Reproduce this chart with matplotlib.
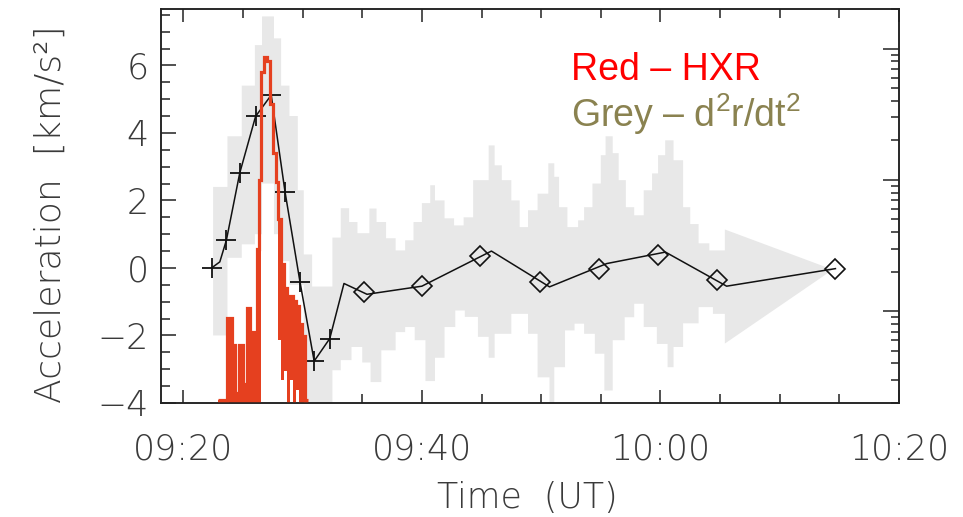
import numpy as np
import matplotlib
matplotlib.use("Agg")
from matplotlib import pyplot as plt
from matplotlib.ticker import MultipleLocator, LogLocator, NullFormatter, FuncFormatter

# times are minutes after 09:20 UT, acceleration in km/s^2

# d2r/dt2 points (plus symbols)
plus_t = [2.37, 3.61, 4.73, 6.06, 7.37, 8.53, 9.78, 10.97, 12.28]
plus_acc = [0.0, 0.82, 2.81, 4.49, 5.12, 2.25, -0.41, -2.76, -2.09]

# later points (diamonds)
diam_t = [15.14, 20.0, 24.9, 29.87, 34.87, 39.8, 44.72, 54.67]
diam_acc = [-0.71, -0.52, 0.36, -0.42, -0.02, 0.38, -0.37, -0.02]

# connecting black line
line_t = [2.37, 3.06, 3.61, 4.73, 6.06, 7.37, 8.53, 9.78, 10.97, 12.28,
          13.47, 15.4, 20.0, 25.83, 30.7, 35.5, 40.42, 45.55, 54.67]
line_acc = [0.0, 0.18, 0.82, 2.81, 4.49, 5.12, 2.25, -0.41, -2.76, -2.09,
            -0.46, -0.78, -0.54, 0.5, -0.56, 0.13, 0.47, -0.54, -0.02]

# grey error band, upper envelope (step edges + values)
hi_edges = [2.5, 3.7, 4.9, 6.0, 6.6, 7.6, 8.2, 8.9, 9.6, 10.1, 10.8, 12.5, 13.2, 13.9,
            14.6, 15.6, 16.2, 17.0, 17.8, 18.6, 19.3, 20.0, 20.7, 21.1, 21.9, 22.7, 23.5,
            24.3, 25.6, 26.1, 26.7, 27.5, 28.2, 28.9, 29.7, 30.6, 31.1, 31.5, 32.2, 33.1,
            33.6, 34.3, 35.0, 35.4, 36.0, 36.5, 37.1, 37.8, 38.6, 39.3, 39.8, 40.4, 41.1,
            41.9, 42.5, 43.2, 44.1, 45.4]
hi_vals = [2.4, 3.9, 5.4, 6.6, 7.45, 6.8, 5.4, 4.5, 2.3, 0.4, -0.55, 0.9, 1.77, 1.36,
           1.03, 1.76, 1.36, 0.88, 0.52, 0.82, 1.36, 1.92, 2.45, 2.0, 1.47, 1.26, 1.5,
           2.6, 3.63, 3.04, 2.6, 2.0, 1.21, 1.71, 2.2, 3.1, 2.7, 1.8, 1.21, 1.41,
           1.8, 2.5, 3.34, 3.9, 3.4, 2.6, 1.8, 1.56, 2.3, 2.8, 3.34, 3.78, 3.19,
           1.8, 1.3, 0.73, 0.52]

# grey error band, lower envelope
lo_edges = [2.5, 3.7, 4.9, 6.0, 6.6, 7.6, 8.2, 8.9, 10.1, 12.5, 13.2, 14.1, 15.0, 15.7,
            16.6, 17.8, 18.6, 19.4, 20.3, 21.1, 21.9, 22.8, 23.6, 24.7, 25.6, 26.1, 27.5,
            28.9, 29.7, 30.7, 31.1, 32.0, 32.8, 33.6, 34.5, 35.3, 36.0, 37.0, 37.8, 38.6,
            39.7, 40.6, 41.1, 41.9, 43.2, 44.4, 45.4]
lo_vals = [-2.0, 0.3, 0.7, 1.0, 2.5, 1.0, 0.2, -0.5, -4.2, -3.03, -2.73, -2.34, -2.8,
           -3.38, -2.44, -1.9, -1.75, -2.14, -3.35, -2.66, -1.75, -1.26, -1.45, -2.04,
           -2.66, -1.95, -1.36, -1.95, -3.24, -4.2, -2.94, -1.85, -1.65, -1.95, -2.54,
           -3.63, -2.14, -1.46, -1.06, -1.75, -2.25, -2.94, -2.34, -1.64, -1.16, -1.36]

# last interval of the band narrows linearly
taper_t = [45.4, 54.45]
taper_hi = [1.14, -0.05]
taper_lo = [-2.24, -0.05]

# HXR count rate (arbitrary units, log scale), per time bin max/min
red_edges = [2.89, 3.64, 4.06, 4.31, 4.64, 4.98, 5.31, 5.56, 5.81, 6.14, 6.31, 6.48, 6.73,
             6.98, 7.23, 7.48, 7.73, 7.98, 8.23, 8.48, 8.73, 8.98, 9.23, 9.48, 9.73, 9.98,
             10.23, 10.48]
red_hi = [21, 88, 55, 24, 55, 28, 105, 45, 70, 300, 1000, 6600, 8600, 8000, 3800, 1600,
          960, 500, 230, 150, 105, 130, 120, 110, 80, 65, 21]
red_lo = [20, 20, 20, 20, 20, 20, 20, 20, 20, 20, 20, 6600, 8600, 8000, 3800, 1600,
          960, 60, 30, 35, 20, 30, 20, 25, 20, 20, 20]


def stairs_xy(edges, vals):
    x = np.repeat(np.asarray(edges, float), 2)[1:-1]
    y = np.repeat(np.asarray(vals, float), 2)
    return x, y


def hhmm(m, pos):
    tot = 9 * 60 + 20 + int(round(m))
    return "%02d:%02d" % (tot // 60, tot % 60)


txt_col = "#3a3a3a"
axis_col = "#222222"
red = "#e5401f"

plt.rcParams["font.family"] = ["DejaVu Sans"]
plt.rcParams["mathtext.fontset"] = "custom"
plt.rcParams["mathtext.rm"] = "Liberation Sans"

fig = plt.figure(figsize=(9.63, 5.17), dpi=100)
ax = fig.add_axes([161 / 963, 1 - 403 / 517, 738 / 963, 394 / 517])

# grey band
ux, uy = stairs_xy(hi_edges, hi_vals)
lx, ly = stairs_xy(lo_edges, lo_vals)
px = np.concatenate([ux, taper_t, taper_t[::-1], lx[::-1]])
py = np.concatenate([uy, taper_hi, taper_lo[::-1], ly[::-1]])
ax.fill(px, py, color="#e8e8e8", lw=0, zorder=1)

# black curve
ax.plot(line_t, line_acc, color="#111111", lw=1.1, zorder=3)
ax.plot(plus_t, plus_acc, "+", ms=14, mew=1.3, color="#111111", zorder=4)
ax.plot(diam_t, diam_acc, "D", ms=10, mfc="none", mec="#111111", mew=1.2, zorder=4)

ax.set_xlim(-1.87, 60.0)
ax.set_ylim(-4.0, 7.67)

ax.xaxis.set_major_locator(MultipleLocator(20))
ax.xaxis.set_minor_locator(MultipleLocator(5))
ax.xaxis.set_major_formatter(FuncFormatter(hhmm))
ax.yaxis.set_major_locator(MultipleLocator(2))
ax.yaxis.set_minor_locator(MultipleLocator(0.5))

ax.tick_params(axis="x", which="both", direction="in", top=True, bottom=True,
               color=axis_col, width=1.1)
ax.tick_params(axis="x", which="major", length=9.5, pad=21)
ax.tick_params(axis="x", which="minor", length=6.5)
ax.tick_params(axis="y", which="both", direction="in", left=True, right=False,
               color=axis_col, width=1.1)
ax.tick_params(axis="y", which="major", length=11, pad=9)
ax.tick_params(axis="y", which="minor", length=6.5)
ax.tick_params(which="major", labelsize=25, labelcolor=txt_col)
for lab in ax.get_xticklabels() + ax.get_yticklabels():
    lab.set_fontweight("light")

for sp in ax.spines.values():
    sp.set_color(axis_col)
    sp.set_linewidth(1.1)

ax.set_ylabel("Acceleration  [km/s\u00b2]", fontsize=26, color=txt_col, fontweight="light")
ax.yaxis.set_label_coords(-0.127, 0.48)
ax.set_xlabel("Time  (UT)", fontsize=25, color=txt_col, fontweight="light")
ax.xaxis.set_label_coords(0.496, -0.198)

# HXR on a log axis at the right
ax2 = ax.twinx()
ax2.set_yscale("log")
ax2.set_ylim(20, 20000)
e = np.asarray(red_edges, float)
ax2.fill_between(e, np.append(red_lo, red_lo[-1]), np.append(red_hi, red_hi[-1]),
                 step="post", color=red, lw=0, zorder=2)
ax2.stairs(red_hi, red_edges, baseline=None, color=red, lw=2.3, zorder=3)
ax2.yaxis.set_major_locator(LogLocator(base=10))
ax2.yaxis.set_minor_locator(LogLocator(base=10, subs=np.arange(2, 10)))
ax2.yaxis.set_major_formatter(NullFormatter())
ax2.yaxis.set_minor_formatter(NullFormatter())
ax2.tick_params(axis="y", which="both", direction="in", color=axis_col, width=1.1)
ax2.tick_params(axis="y", which="major", length=11.5)
ax2.tick_params(axis="y", which="minor", length=5.8)
for sp in ax2.spines.values():
    sp.set_color(axis_col)
    sp.set_linewidth(1.1)

fig.text(571 / 963, 1 - 80 / 517, "Red \u2013 HXR", color="#ff0000", fontsize=27,
         family="Liberation Sans", va="baseline", ha="left")
fig.text(571 / 963, 1 - 127 / 517, "Grey \u2013 d$^2$r/dt$^2$", color="#8a8250",
         fontsize=27, family="Liberation Sans", va="baseline", ha="left")

fig.savefig("out.png", dpi=100)
